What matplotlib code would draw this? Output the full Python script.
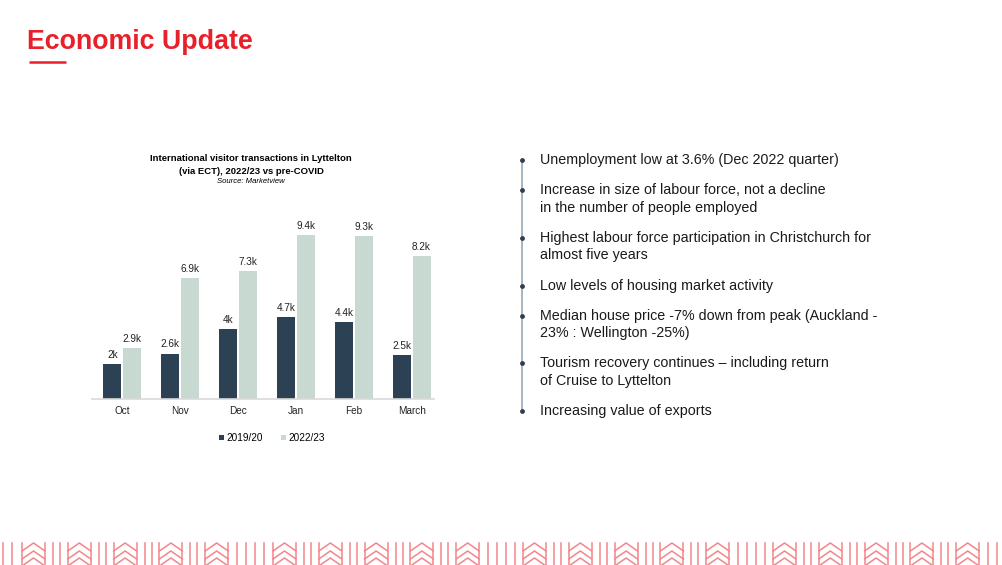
import numpy as np
import matplotlib
matplotlib.use('Agg')
import matplotlib.pyplot as plt

plt.rcParams['font.family'] = ['Liberation Sans', 'DejaVu Sans']

# chart data (thousands of transactions)
months = ['Oct', 'Nov', 'Dec', 'Jan', 'Feb', 'March']
pre_covid = [2.0, 2.6, 4.0, 4.7, 4.4, 2.5]
post_covid = [2.9, 6.9, 7.3, 9.4, 9.3, 8.2]
pre_labels = ['2k', '2.6k', '4k', '4.7k', '4.4k', '2.5k']
post_labels = ['2.9k', '6.9k', '7.3k', '9.4k', '9.3k', '8.2k']
series_names = ['2019/20', '2022/23']

bullets = [
    ['Unemployment low at 3.6% (Dec 2022 quarter)'],
    ['Increase in size of labour force, not a decline',
     'in the number of people employed'],
    ['Highest labour force participation in Christchurch for',
     'almost five years'],
    ['Low levels of housing market activity'],
    ['Median house price -7% down from peak (Auckland -',
     '23% : Wellington -25%)'],
    ['Tourism recovery continues \u2013 including return',
     'of Cruise to Lyttelton'],
    ['Increasing value of exports'],
]

RED = '#e8202a'
DARK = '#2c4154'
LIGHT = '#c8d9d2'
W, H = 1003, 565

fig = plt.figure(figsize=(W / 100, H / 100), dpi=100)

# overlay for slide decorations, pixel coords
deco = fig.add_axes([0, 0, 1, 1])
deco.set_xlim(0, W)
deco.set_ylim(H, 0)
deco.axis('off')

deco.text(27, 42, 'Economic Update', color=RED, fontsize=19.3,
          fontweight='bold', va='center', ha='left')
deco.plot([29, 66], [62, 62], color=RED, lw=1.8, solid_capstyle='butt')

# bullet list
y0 = 160
item_gap = 30.2
line_gap = 17.5
tops = []
y = y0
for item in bullets:
    tops.append(y)
    for j, line in enumerate(item):
        deco.text(540, y + j * line_gap, line, fontsize=10.3, color='#1a1a1a',
                  va='center', ha='left')
    y += (len(item) - 1) * line_gap + item_gap
deco.plot([522, 522], [tops[0], tops[-1]], color='#9aa8b4', lw=1.2)
deco.scatter([522] * len(tops), tops, s=6, color='#2c3e50', zorder=3)

# footer pattern
fc = '#f3868b'
def vline(x):
    deco.plot([x, x], [543, 566], color=fc, lw=1.1)

for gx in [22, 273, 523, 773]:
    for k in range(5):
        bx = gx + k * 45.8
        vline(bx)
        vline(bx + 23)
        for cy in [543, 551, 558]:
            deco.plot([bx, bx + 11.5, bx + 23], [cy + 8, cy, cy + 8],
                      color=fc, lw=1.1)
        if k < 4:
            vline(bx + 31)
            vline(bx + 38)
    end = gx + 4 * 45.8 + 23
    for off in [9, 18, 27, 36]:
        if end + off < gx + 250 - 5:
            vline(end + off)
for x in [3, 12]:
    vline(x)

# bar chart
ax = fig.add_axes([92 / W, (H - 399) / H, (434 - 92) / W, 180 / H])
x = np.arange(len(months))
bw = 0.31
b1 = ax.bar(x - 0.165, pre_covid, bw, color=DARK, label=series_names[0])
b2 = ax.bar(x + 0.165, post_covid, bw, color=LIGHT, label=series_names[1])
for bars, labs in [(b1, pre_labels), (b2, post_labels)]:
    for r, lab in zip(bars, labs):
        ax.annotate(lab, (r.get_x() + r.get_width() / 2, r.get_height()),
                    xytext=(0, 3), textcoords='offset points',
                    ha='center', va='bottom', fontsize=7.2, color='#222222')
ax.set_xlim(-0.517, 5.38)
ax.set_ylim(0, 10.3)
ax.set_xticks(x)
ax.set_xticklabels(months, fontsize=7.2, color='#222222')
ax.tick_params(axis='x', length=0, pad=5)
ax.set_yticks([])
for s in ['top', 'right', 'left']:
    ax.spines[s].set_visible(False)
ax.spines['bottom'].set_color('#d9d9d9')
ax.spines['bottom'].set_linewidth(1.2)

fig.text(251 / W, 1 - 158 / H, 'International visitor transactions in Lyttelton',
         fontsize=6.8, fontweight='bold', ha='center', va='center')
fig.text(251 / W, 1 - 171 / H, '(via ECT), 2022/23 vs pre-COVID',
         fontsize=6.8, fontweight='bold', ha='center', va='center')
fig.text(251 / W, 1 - 181.5 / H, 'Source: Marketview',
         fontsize=5.6, style='italic', ha='center', va='center')

leg = ax.legend(loc='center', bbox_to_anchor=(272 / W, 1 - 438 / H),
                bbox_transform=fig.transFigure, ncol=2, frameon=False,
                fontsize=7.2, handlelength=0.5, handleheight=0.5,
                handletextpad=0.2, columnspacing=1.8)

fig.savefig('out.png', dpi=100)
